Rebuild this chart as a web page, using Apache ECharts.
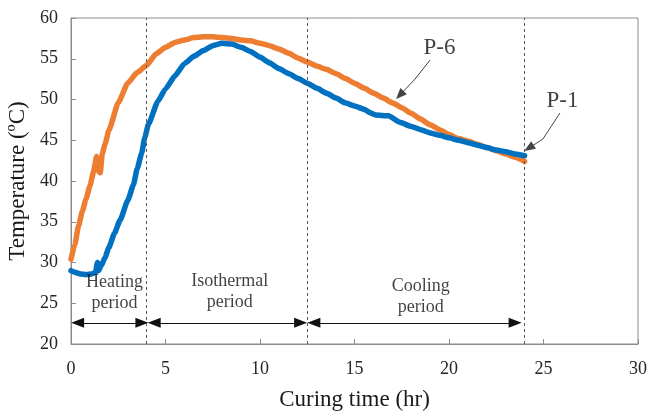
<!DOCTYPE html>
<html>
<head>
<meta charset="utf-8">
<script src="https://cdn.jsdelivr.net/npm/echarts@6/dist/echarts.min.js"></script>
<style>html,body{margin:0;padding:0;background:#fff}#c{width:649px;height:412px}</style>
</head>
<body>
<div id="c"></div>
<script>
// ---- data ----
var p6Time = [0,0.2,0.4,0.6,0.8,1.0,1.2,1.35,1.45,1.55,1.65,1.8,2.0,2.5,3.0,3.5,4.0,4.5,5.0,5.5,6.0,6.5,7.0,7.5,8.0,8.5,9.0,9.5,10.0,10.5,11.0,11.5,12.0,12.5,13.0,13.5,14.0,14.5,15.0,15.5,16.0,16.5,17.0,17.5,18.0,18.5,19.0,19.5,20.0,20.5,21.0,21.5,22.0,22.5,23.0,23.5,24.0];
var p6Temp = [30.4,32.2,34.5,36.3,37.8,39.4,41.2,43.0,41.2,41.0,43.3,44.5,46.2,49.6,52.0,53.3,54.2,55.6,56.4,57.0,57.3,57.6,57.7,57.7,57.6,57.5,57.3,57.2,56.9,56.6,56.2,55.7,55.1,54.6,54.1,53.7,53.2,52.6,52.0,51.4,50.8,50.2,49.6,49.0,48.3,47.6,46.9,46.3,45.7,45.2,44.9,44.5,44.1,43.7,43.3,42.9,42.4];
var p1Time = [0,0.2,0.5,0.8,1.1,1.3,1.4,1.45,1.6,1.8,2.0,2.3,2.6,3.0,3.3,3.5,3.74,3.9,4.1,4.6,5.0,5.5,6.0,6.5,7.0,7.5,8.0,8.5,9.0,9.5,10.0,10.5,11.0,11.5,12.0,12.5,13.0,13.5,14.0,14.5,15.0,15.5,15.9,16.1,16.8,17.4,18.0,18.5,19.0,19.5,20.0,20.5,21.0,21.5,22.0,22.5,23.0,23.5,24.0];
var p1Temp = [29.0,28.8,28.6,28.5,28.6,28.8,30.0,29.0,29.6,30.6,31.8,33.6,35.2,37.6,39.5,41.5,43.4,45.3,47.0,49.8,51.3,52.9,54.4,55.3,56.0,56.6,56.9,56.8,56.4,55.9,55.2,54.5,53.8,53.2,52.6,52.0,51.4,50.8,50.2,49.6,49.2,48.8,48.3,48.1,48.0,47.2,46.7,46.3,45.9,45.6,45.3,45.0,44.7,44.4,44.1,43.8,43.6,43.3,43.1];
var seriesNames = ['P-6','P-1'];
var xTicks = [0,5,10,15,20,25,30];
var yTicks = [20,25,30,35,40,45,50,55,60];
var periodBounds = [4,12.5,24];
var periodNames = ['Heating\nperiod','Isothermal\nperiod','Cooling\nperiod'];
var periodLabelX = [2.3,8.4,18.5];
var periodLabelY = [26.3,26.4,25.8];
var periodArrowStart = [0.35,4.4,12.85];
var periodArrowEnd = [3.75,12.15,23.5];
var periodArrowY = 22.6;
var curveLabelX = [19.5,26.0];
var curveLabelY = [56.3,49.8];
// S-shaped pointer arrows: start -> bend -> tip
var curveArrowFrom = [[19.0,54.85],[25.87,48.34]];
var curveArrowBend = [[18.2,52.5],[24.97,45.15]];
var curveArrowTo = [[17.4,50.55],[24.23,44.05]];

function zip(a,b){return a.map(function(v,i){return [v,b[i]];});}

var serif = 'Liberation Serif';
var chart = echarts.init(document.getElementById('c'), null, {renderer:'canvas'});

var periodArrowData = periodArrowStart.map(function(s,i){
  return [{coord:[s,periodArrowY]},{coord:[periodArrowEnd[i],periodArrowY]}];
});
var curveFirstHalf = curveArrowFrom.map(function(f,i){
  return [{coord:f},{coord:curveArrowBend[i]}];
});
var curveSecondHalf = curveArrowBend.map(function(b,i){
  return [{coord:b},{coord:curveArrowTo[i]}];
});
var textData = periodNames.map(function(n,i){return [periodLabelX[i],periodLabelY[i],n];});
var pLabelData = seriesNames.map(function(n,i){return [curveLabelX[i],curveLabelY[i],n];});

chart.setOption({
  animation:false,
  grid:{left:71,right:11,top:18,bottom:68,outerBoundsMode:'none',containLabel:false,show:true,borderColor:'#8c8c8c',borderWidth:1,backgroundColor:'transparent'},
  xAxis:{type:'value',min:0,max:30,interval:5,
    name:'Curing time (hr)',nameLocation:'middle',nameGap:44,
    nameTextStyle:{fontFamily:serif,fontSize:23,color:'#1a1a1a'},
    axisLine:{show:true,lineStyle:{color:'#8c8c8c',width:1}},
    axisTick:{show:true,inside:true,length:5,lineStyle:{color:'#8c8c8c'}},
    axisLabel:{fontFamily:serif,fontSize:18,color:'#262626',margin:16},
    splitLine:{show:false}},
  yAxis:{type:'value',min:20,max:60,interval:5,
    name:'Temperature (\u00BAC)',nameLocation:'middle',nameGap:42,
    nameTextStyle:{fontFamily:serif,fontSize:23,color:'#1a1a1a'},
    axisLine:{show:true,lineStyle:{color:'#8c8c8c',width:1}},
    axisTick:{show:true,inside:true,length:5,lineStyle:{color:'#8c8c8c'}},
    axisLabel:{fontFamily:serif,fontSize:18,color:'#262626',margin:13},
    splitLine:{show:false}},
  series:[
    {name:seriesNames[0],type:'line',data:zip(p6Time,p6Temp),showSymbol:false,smooth:0.15,smoothMonotone:'x',
      lineStyle:{color:'#ED7D31',width:5.5,cap:'round',join:'round'},z:2},
    {name:seriesNames[1],type:'line',data:zip(p1Time,p1Temp),showSymbol:false,smooth:0.15,smoothMonotone:'x',
      lineStyle:{color:'#0070C0',width:5.5,cap:'round',join:'round'},z:3},
    {type:'line',data:[],z:4,
      markLine:{silent:true,symbol:'none',label:{show:false},animation:false,
        lineStyle:{type:[3,3],color:'#555',width:1},
        data:periodBounds.map(function(b){return {xAxis:b};})}},
    {type:'line',data:[],z:4,
      markLine:{silent:true,symbol:['triangle','triangle'],symbolSize:[10,13],label:{show:false},animation:false,
        lineStyle:{type:'solid',color:'#111',width:1},
        data:periodArrowData}},
    {type:'line',data:[],z:4,
      markLine:{silent:true,symbol:'none',label:{show:false},animation:false,
        lineStyle:{type:'solid',color:'#444',width:1,curveness:0.5},
        data:curveFirstHalf}},
    {type:'line',data:[],z:4,
      markLine:{silent:true,symbol:['none','triangle'],symbolSize:[9,11],label:{show:false},animation:false,
        lineStyle:{type:'solid',color:'#444',width:1,curveness:-0.2},
        data:curveSecondHalf}},
    {type:'scatter',data:textData,symbolSize:0,z:5,silent:true,
      label:{show:true,position:'inside',formatter:function(p){return p.data[2];},
        fontFamily:serif,fontSize:18,lineHeight:21,color:'#111',align:'center'}},
    {type:'scatter',data:pLabelData,symbolSize:0,z:5,silent:true,
      label:{show:true,position:'inside',formatter:function(p){return p.data[2];},
        fontFamily:serif,fontSize:23,color:'#111',align:'center'}}
  ]
});
</script>
</body>
</html>
